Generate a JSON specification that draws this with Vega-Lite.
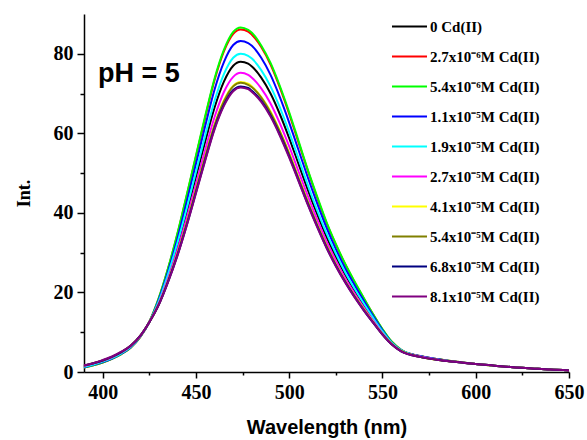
{
  "$schema": "https://vega.github.io/schema/vega-lite/v6.json",
  "width": 485,
  "height": 358,
  "autosize": "none",
  "padding": {"left": 84, "top": 14, "right": 18, "bottom": 68},
  "config": {"view": {"stroke": null}, "font": "Liberation Serif"},
  "layer": [
    {
      "data": {"values": [
        {"w":390,"a0":1.4,"a1":1.1,"a2":1.1,"a3":1.2,"a4":1.3,"a5":1.5,"a6":1.6,"a7":1.6,"a8":1.6,"a9":1.7},
        {"w":395,"a0":2.0,"a1":1.7,"a2":1.7,"a3":1.8,"a4":1.9,"a5":2.1,"a6":2.2,"a7":2.2,"a8":2.2,"a9":2.2},
        {"w":400,"a0":2.7,"a1":2.4,"a2":2.4,"a3":2.5,"a4":2.6,"a5":2.8,"a6":2.9,"a7":2.9,"a8":2.9,"a9":3.0},
        {"w":405,"a0":3.6,"a1":3.3,"a2":3.3,"a3":3.4,"a4":3.5,"a5":3.7,"a6":3.8,"a7":3.8,"a8":3.8,"a9":3.9},
        {"w":410,"a0":4.8,"a1":4.5,"a2":4.5,"a3":4.6,"a4":4.7,"a5":4.9,"a6":5.0,"a7":5.0,"a8":5.0,"a9":5.1},
        {"w":415,"a0":6.4,"a1":6.1,"a2":6.1,"a3":6.2,"a4":6.3,"a5":6.5,"a6":6.6,"a7":6.6,"a8":6.6,"a9":6.6},
        {"w":420,"a0":8.9,"a1":8.7,"a2":8.7,"a3":8.8,"a4":8.9,"a5":8.9,"a6":9.0,"a7":9.0,"a8":9.0,"a9":9.0},
        {"w":425,"a0":12.5,"a1":12.6,"a2":12.6,"a3":12.5,"a4":12.5,"a5":12.5,"a6":12.5,"a7":12.5,"a8":12.5,"a9":12.5},
        {"w":430,"a0":17.5,"a1":18.4,"a2":18.5,"a3":18.1,"a4":17.7,"a5":17.2,"a6":16.9,"a7":16.9,"a8":16.8,"a9":16.8},
        {"w":435,"a0":24.0,"a1":25.9,"a2":26.0,"a3":25.2,"a4":24.5,"a5":23.4,"a6":22.8,"a7":22.8,"a8":22.6,"a9":22.5},
        {"w":440,"a0":31.5,"a1":34.5,"a2":34.7,"a3":33.4,"a4":32.3,"a5":30.5,"a6":29.6,"a7":29.5,"a8":29.2,"a9":29.1},
        {"w":445,"a0":40.0,"a1":44.2,"a2":44.4,"a3":42.7,"a4":41.0,"a5":38.6,"a6":37.4,"a7":37.3,"a8":36.8,"a9":36.7},
        {"w":450,"a0":49.0,"a1":54.1,"a2":54.4,"a3":52.3,"a4":50.3,"a5":47.2,"a6":45.8,"a7":45.7,"a8":45.1,"a9":44.9},
        {"w":455,"a0":58.0,"a1":64.0,"a2":64.4,"a3":61.9,"a4":59.5,"a5":55.9,"a6":54.2,"a7":54.1,"a8":53.4,"a9":53.2},
        {"w":460,"a0":66.5,"a1":73.4,"a2":73.8,"a3":71.0,"a4":68.2,"a5":64.1,"a6":62.2,"a7":62.0,"a8":61.3,"a9":61.0},
        {"w":465,"a0":73.0,"a1":80.6,"a2":81.0,"a3":77.9,"a4":74.9,"a5":70.4,"a6":68.3,"a7":68.0,"a8":67.2,"a9":66.9},
        {"w":470,"a0":77.0,"a1":85.0,"a2":85.5,"a3":82.2,"a4":79.0,"a5":74.2,"a6":72.0,"a7":71.8,"a8":70.9,"a9":70.6},
        {"w":474,"a0":78.0,"a1":86.1,"a2":86.6,"a3":83.2,"a4":80.0,"a5":75.2,"a6":72.9,"a7":72.7,"a8":71.8,"a9":71.5},
        {"w":478,"a0":77.5,"a1":85.6,"a2":86.0,"a3":82.7,"a4":79.5,"a5":74.7,"a6":72.5,"a7":72.2,"a8":71.4,"a9":71.1},
        {"w":480,"a0":76.8,"a1":84.8,"a2":85.3,"a3":82.0,"a4":78.8,"a5":74.0,"a6":71.8,"a7":71.6,"a8":70.7,"a9":70.4},
        {"w":485,"a0":74.0,"a1":81.7,"a2":82.1,"a3":79.0,"a4":75.9,"a5":71.3,"a6":69.2,"a7":69.0,"a8":68.2,"a9":67.9},
        {"w":490,"a0":70.0,"a1":77.3,"a2":77.7,"a3":74.7,"a4":71.8,"a5":67.5,"a6":65.5,"a7":65.2,"a8":64.5,"a9":64.2},
        {"w":495,"a0":64.8,"a1":71.5,"a2":71.9,"a3":69.1,"a4":66.5,"a5":62.5,"a6":60.6,"a7":60.4,"a8":59.7,"a9":59.4},
        {"w":500,"a0":58.8,"a1":64.9,"a2":65.3,"a3":62.7,"a4":60.3,"a5":56.7,"a6":55.0,"a7":54.8,"a8":54.2,"a9":53.9},
        {"w":505,"a0":52.3,"a1":57.7,"a2":58.1,"a3":55.8,"a4":53.7,"a5":50.4,"a6":48.9,"a7":48.7,"a8":48.2,"a9":48.0},
        {"w":510,"a0":45.8,"a1":50.6,"a2":50.8,"a3":48.9,"a4":47.0,"a5":44.2,"a6":42.8,"a7":42.7,"a8":42.2,"a9":42.0},
        {"w":515,"a0":39.7,"a1":43.8,"a2":44.1,"a3":42.4,"a4":40.7,"a5":38.3,"a6":37.1,"a7":37.0,"a8":36.6,"a9":36.4},
        {"w":520,"a0":34.0,"a1":37.5,"a2":37.7,"a3":36.3,"a4":34.9,"a5":32.8,"a6":31.8,"a7":31.7,"a8":31.3,"a9":31.2},
        {"w":525,"a0":29.0,"a1":32.0,"a2":32.2,"a3":30.9,"a4":29.8,"a5":28.0,"a6":27.1,"a7":27.0,"a8":26.7,"a9":26.6},
        {"w":530,"a0":24.5,"a1":27.1,"a2":27.2,"a3":26.1,"a4":25.1,"a5":23.6,"a6":22.9,"a7":22.8,"a8":22.6,"a9":22.5},
        {"w":535,"a0":20.5,"a1":22.6,"a2":22.8,"a3":21.9,"a4":21.0,"a5":19.8,"a6":19.2,"a7":19.1,"a8":18.9,"a9":18.8},
        {"w":540,"a0":16.8,"a1":18.5,"a2":18.6,"a3":17.9,"a4":17.2,"a5":16.2,"a6":15.8,"a7":15.7,"a8":15.5,"a9":15.5},
        {"w":545,"a0":13.3,"a1":14.5,"a2":14.5,"a3":14.1,"a4":13.6,"a5":12.9,"a6":12.6,"a7":12.5,"a8":12.4,"a9":12.4},
        {"w":550,"a0":10.0,"a1":10.7,"a2":10.8,"a3":10.5,"a4":10.2,"a5":9.7,"a6":9.5,"a7":9.5,"a8":9.4,"a9":9.4},
        {"w":555,"a0":7.2,"a1":7.6,"a2":7.6,"a3":7.4,"a4":7.3,"a5":7.1,"a6":7.0,"a7":7.0,"a8":6.9,"a9":6.9},
        {"w":560,"a0":5.4,"a1":5.6,"a2":5.6,"a3":5.5,"a4":5.5,"a5":5.3,"a6":5.3,"a7":5.3,"a8":5.2,"a9":5.2},
        {"w":570,"a0":3.9,"a1":4.0,"a2":4.0,"a3":4.0,"a4":3.9,"a5":3.9,"a6":3.8,"a7":3.8,"a8":3.8,"a9":3.8},
        {"w":580,"a0":3.1,"a1":3.2,"a2":3.2,"a3":3.2,"a4":3.1,"a5":3.1,"a6":3.0,"a7":3.0,"a8":3.0,"a9":3.0},
        {"w":590,"a0":2.5,"a1":2.6,"a2":2.6,"a3":2.5,"a4":2.5,"a5":2.5,"a6":2.5,"a7":2.5,"a8":2.5,"a9":2.5},
        {"w":600,"a0":2.0,"a1":2.0,"a2":2.0,"a3":2.0,"a4":2.0,"a5":2.0,"a6":2.0,"a7":2.0,"a8":2.0,"a9":2.0},
        {"w":610,"a0":1.6,"a1":1.6,"a2":1.6,"a3":1.6,"a4":1.6,"a5":1.6,"a6":1.6,"a7":1.6,"a8":1.6,"a9":1.6},
        {"w":620,"a0":1.2,"a1":1.2,"a2":1.2,"a3":1.2,"a4":1.2,"a5":1.2,"a6":1.2,"a7":1.2,"a8":1.2,"a9":1.2},
        {"w":630,"a0":0.9,"a1":0.9,"a2":0.9,"a3":0.9,"a4":0.9,"a5":0.9,"a6":0.9,"a7":0.9,"a8":0.9,"a9":0.9},
        {"w":640,"a0":0.6,"a1":0.6,"a2":0.6,"a3":0.6,"a4":0.6,"a5":0.6,"a6":0.6,"a7":0.6,"a8":0.6,"a9":0.6},
        {"w":650,"a0":0.4,"a1":0.4,"a2":0.4,"a3":0.4,"a4":0.4,"a5":0.4,"a6":0.4,"a7":0.4,"a8":0.4,"a9":0.4}
      ]},
      "transform": [{"fold": ["a0","a1","a2","a3","a4","a5","a6","a7","a8","a9"], "as": ["series","int"]}],
      "mark": {"type": "line", "strokeWidth": 2, "interpolate": "monotone"},
      "encoding": {
        "x": {
          "field": "w", "type": "quantitative",
          "scale": {"domain": [390, 650], "nice": false, "zero": false},
          "axis": {
            "title": "Wavelength (nm)",
            "titleFont": "Liberation Sans", "titleFontSize": 20, "titleFontWeight": "bold", "titleColor": "black",
            "titlePadding": 15,
            "values": [400,425,450,475,500,525,550,575,600,625,650],
            "labelExpr": "datum.value % 50 === 0 ? datum.label : ''",
            "tickSize": {"condition": {"test": "datum.value % 50 !== 0", "value": 3}, "value": 6},
            "labelFont": "Liberation Serif", "labelFontSize": 20, "labelFontWeight": "bold", "labelColor": "black",
            "labelPadding": 4, "labelFlush": false, "labelOverlap": false,
            "domainColor": "black", "domainWidth": 1.5, "tickColor": "black", "tickWidth": 1.5,
            "grid": false
          }
        },
        "y": {
          "field": "int", "type": "quantitative",
          "scale": {"domain": [0, 90], "nice": false},
          "axis": {
            "title": "Int.",
            "titleFont": "Liberation Serif", "titleFontSize": 18, "titleFontWeight": "bold", "titleColor": "black",
            "titlePadding": 20,
            "values": [0,10,20,30,40,50,60,70,80],
            "labelExpr": "datum.value % 20 === 0 ? datum.label : ''",
            "tickSize": {"condition": {"test": "datum.value % 20 !== 0", "value": 4}, "value": 7},
            "labelFont": "Liberation Serif", "labelFontSize": 20, "labelFontWeight": "bold", "labelColor": "black",
            "labelPadding": 4, "labelOverlap": false,
            "domainColor": "black", "domainWidth": 1.5, "tickColor": "black", "tickWidth": 1.5,
            "grid": false
          }
        },
        "color": {
          "field": "series", "type": "nominal",
          "scale": {
            "domain": ["a0","a1","a2","a3","a4","a5","a6","a7","a8","a9"],
            "range": ["#000000","#ff0000","#00ff00","#0000ff","#00ffff","#ff00ff","#ffff00","#808000","#000080","#800080"]
          },
          "legend": {
            "orient": "none", "legendX": 307, "legendY": -6,
            "title": null, "padding": 0, "rowPadding": 3,
            "symbolType": "stroke", "symbolSize": 1225, "symbolStrokeWidth": 2,
            "labelFont": "Liberation Serif", "labelFontSize": 15, "labelFontWeight": "bold", "labelColor": "black",
            "labelOffset": 2, "labelLimit": 300,
            "labelExpr": "['0 Cd(II)','2.7x10⁻⁶M Cd(II)','5.4x10⁻⁶M Cd(II)','1.1x10⁻⁵M Cd(II)','1.9x10⁻⁵M Cd(II)','2.7x10⁻⁵M Cd(II)','4.1x10⁻⁵M Cd(II)','5.4x10⁻⁵M Cd(II)','6.8x10⁻⁵M Cd(II)','8.1x10⁻⁵M Cd(II)'][toNumber(slice(datum.value, 1))]"
          }
        }
      }
    },
    {
      "data": {"values": [{"label": "pH = 5"}]},
      "mark": {"type": "text", "font": "Liberation Sans", "fontWeight": "bold", "fontSize": 27, "align": "left", "baseline": "middle", "color": "black"},
      "encoding": {
        "x": {"datum": 397.5, "type": "quantitative"},
        "y": {"datum": 75, "type": "quantitative"},
        "text": {"field": "label"}
      }
    }
  ]
}
